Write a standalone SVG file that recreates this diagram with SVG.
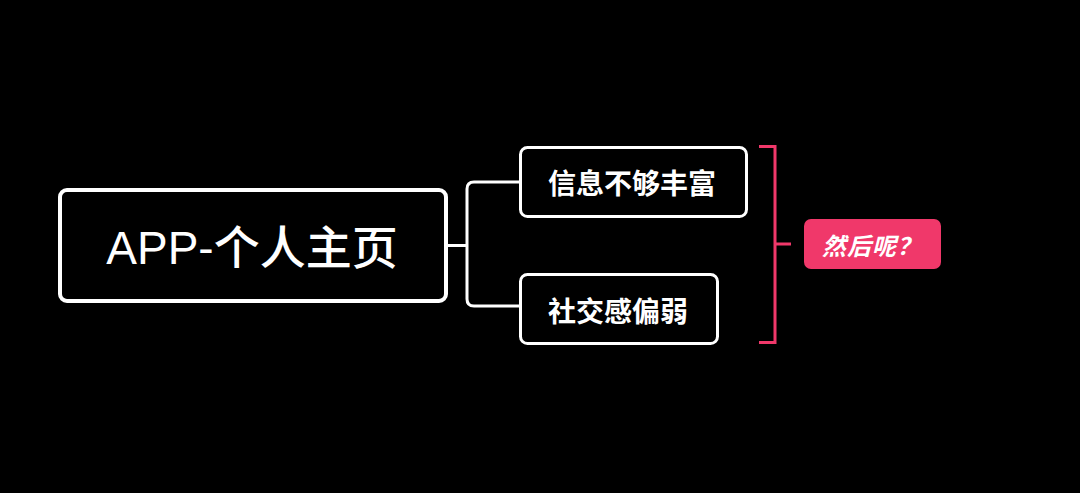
<svg xmlns="http://www.w3.org/2000/svg" width="1080" height="493" viewBox="0 0 1080 493">
<style>
.box{fill:#000;stroke:#fff;}
.t{fill:#fff;font-family:"Noto Sans CJK SC","Noto Sans",sans-serif;text-anchor:middle;dominant-baseline:central;}
.conn{fill:none;stroke:#fff;stroke-width:3;}
.br{fill:none;stroke:#F0386A;stroke-width:3;}
</style>
<rect width="1080" height="493" fill="#000"/>
<g id="connectors">
<path class="conn" d="M448 245.5 H466 M520 182 H474 Q467 182 467 189 V299 Q467 306 474 306 H520"/>
<path class="br" d="M759 146.5 H775 V342.5 H759 M775 244 H791"/>
</g>
<g id="main">
<rect class="box" x="60" y="190" width="386" height="111" rx="7" stroke-width="4"/>
<text class="t" x="252" y="248" font-size="46" font-weight="500" style="font-family:'Liberation Sans','Noto Sans CJK SC',sans-serif">APP-个人主页</text>
</g>
<g id="n1">
<rect class="box" x="520.5" y="147.5" width="226" height="69" rx="7" stroke-width="3"/>
<text class="t" x="632" y="182" font-size="28" font-weight="bold">信息不够丰富</text>
</g>
<g id="n2">
<rect class="box" x="520.5" y="274.5" width="197" height="69" rx="7" stroke-width="3"/>
<text class="t" x="618" y="310" font-size="28" font-weight="bold">社交感偏弱</text>
</g>
<g id="note">
<rect x="804" y="219" width="137" height="50" rx="7" fill="#F0386A"/>
<text class="t" x="872" y="244" font-size="24" font-weight="bold" font-style="italic" letter-spacing="1">然后呢？</text>
</g>
</svg>
